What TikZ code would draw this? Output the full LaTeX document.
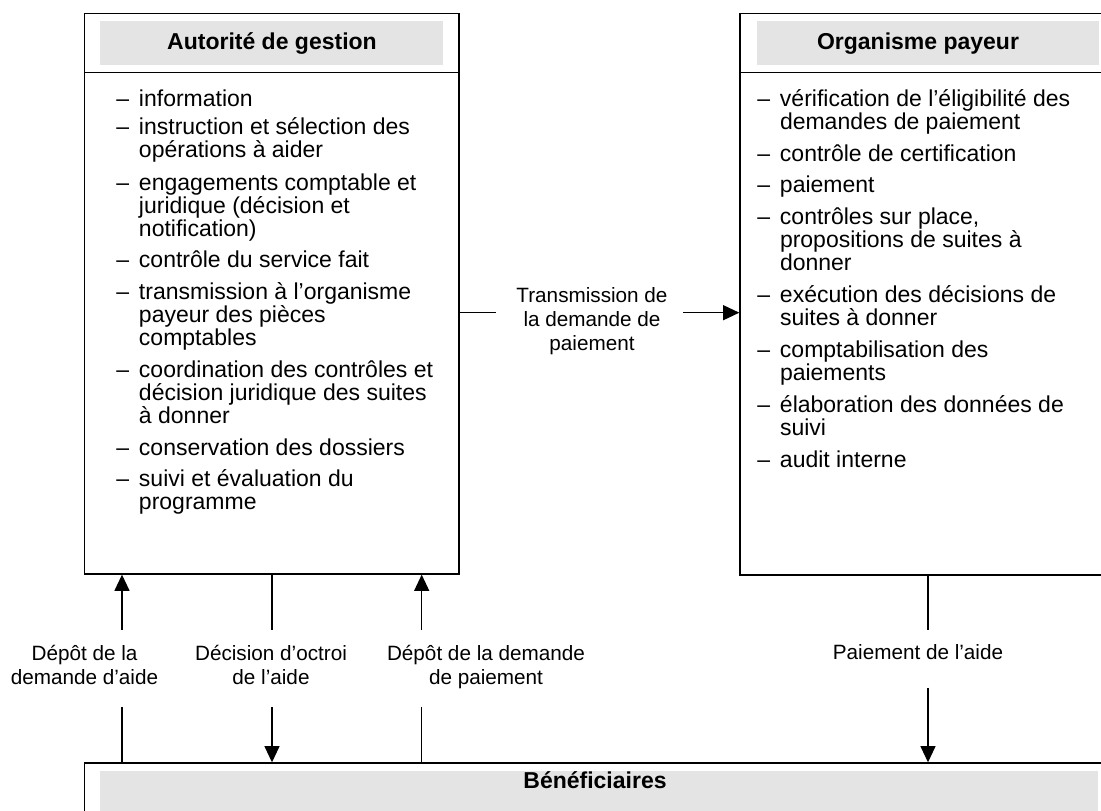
\documentclass[tikz,border=0pt]{standalone}
\usepackage{fontspec}
\setmainfont{Liberation Sans}
\usetikzlibrary{arrows.meta,fit}

\definecolor{grisentete}{RGB}{228,228,228}
\newcommand{\policecorps}{\fontsize{10}{10}\selectfont}
\newcommand{\policeetiq}{\fontsize{9}{10.35}\selectfont}
\newcommand{\tiret}{\rule{0pt}{8pt}\makebox[9.8pt][l]{–}}
\newcommand{\retrait}{\hspace*{9.8pt}}
\newcommand{\haut}{\rule{0pt}{7.5pt}}

\tikzset{
  cadre/.style={draw, line width=0.6pt, inner sep=0pt},
  entete/.style={font=\policecorps\bfseries, anchor=base, inner sep=0pt},
  puce/.style={font=\policecorps, anchor=north west, yshift=8pt, inner sep=0pt, align=left},
  etiq/.style={font=\policeetiq, anchor=north, yshift=7.5pt, inner sep=0pt, align=center},
  trait/.style={line width=0.5pt},
  fleche/.style={trait, -{Triangle[length=7pt,width=6.5pt]}}
}

\begin{document}
\begin{tikzpicture}[x=0.4348pt, y=-0.4348pt]
    \useasboundingbox (0,0) rectangle (1101,811);
    \clip (0,0) rectangle (1101,811);

    % Autorité de gestion
    \fill[grisentete] (100,21) rectangle (443,65);
    \node[cadre, fit={(84.7,13.3) (459,574)}] (ag) {};
    \draw[line width=0.6pt] (84.7,72.7) -- (459,72.7);
    \node[entete] (agtitre) at (272,50) {Autorité de gestion};
    \node[puce] (ag1) at (116,106) {\tiret information};
    \node[puce] (ag2) at (116,134) {\tiret instruction et sélection des\\\retrait opérations à aider};
    \node[puce] (ag3) at (116,190) {\tiret engagements comptable et\\\retrait juridique (décision et\\\retrait notification)};
    \node[puce] (ag4) at (116,267) {\tiret contrôle du service fait};
    \node[puce] (ag5) at (116,299) {\tiret transmission à l’organisme\\\retrait payeur des pièces\\\retrait comptables};
    \node[puce] (ag6) at (116,377) {\tiret coordination des contrôles et\\\retrait décision juridique des suites\\\retrait à donner};
    \node[puce] (ag7) at (116,455) {\tiret conservation des dossiers};
    \node[puce] (ag8) at (116,486) {\tiret suivi et évaluation du\\\retrait programme};

    % Organisme payeur
    \fill[grisentete] (757,21) rectangle (1099,65);
    \node[cadre, fit={(740,13.3) (1115,575)}] (op) {};
    \draw[line width=0.6pt] (740,72.7) -- (1115,72.7);
    \node[entete] (optitre) at (918,50) {Organisme payeur};
    \node[puce] (op1) at (757,106) {\tiret vérification de l’éligibilité des\\\retrait demandes de paiement};
    \node[puce] (op2) at (757,161) {\tiret contrôle de certification};
    \node[puce] (op3) at (757,192) {\tiret paiement};
    \node[puce] (op4) at (757,224) {\tiret contrôles sur place,\\\retrait propositions de suites à\\\retrait donner};
    \node[puce] (op5) at (757,302) {\tiret exécution des décisions de\\\retrait suites à donner};
    \node[puce] (op6) at (757,357) {\tiret comptabilisation des\\\retrait paiements};
    \node[puce] (op7) at (757,412) {\tiret élaboration des données de\\\retrait suivi};
    \node[puce] (op8) at (757,467) {\tiret audit interne};

    % Bénéficiaires
    \fill[grisentete] (100,771) rectangle (1098,840);
    \node[cadre, fit={(84.7,763) (1115,850)}] (ben) {};
    \node[entete] (bentitre) at (595,789) {Bénéficiaires};

    % Etiquettes des flux
    \node[etiq] (dda) at (84.5,660) {\haut Dépôt de la\\demande d’aide};
    \node[etiq] (doa) at (271,660) {\haut Décision d’octroi\\de l’aide};
    \node[etiq] (ddp) at (486,660) {\haut Dépôt de la demande\\de paiement};
    \node[etiq] (pa) at (918,659) {\haut Paiement de l’aide};
    \node[etiq] (tdp) at (592,302) {\haut Transmission de\\la demande de\\paiement};

    % Flux
    \coordinate (c1h) at (122,630);
    \coordinate (c1b) at (122,707);
    \draw[fleche] (c1h) -- (c1h |- ag.south);
    \draw[trait] (c1b |- ben.north) -- (c1b);
    \coordinate (c2h) at (272,630);
    \coordinate (c2b) at (272,707);
    \draw[trait] (c2h |- ag.south) -- (c2h);
    \draw[fleche] (c2b) -- (c2b |- ben.north);
    \coordinate (c3h) at (421.7,630);
    \coordinate (c3b) at (421.7,707);
    \draw[fleche] (c3h) -- (c3h |- ag.south);
    \draw[trait] (c3b |- ben.north) -- (c3b);
    \coordinate (c4h) at (928,630);
    \coordinate (c4b) at (928,688);
    \draw[trait] (c4h |- op.south) -- (c4h);
    \draw[fleche] (c4b) -- (c4b |- ben.north);
    \coordinate (c5g) at (496,312.7);
    \coordinate (c5d) at (683,312.7);
    \draw[trait] (ag.east |- c5g) -- (c5g);
    \draw[fleche] (c5d) -- (c5d -| op.west);
\end{tikzpicture}
\end{document}
